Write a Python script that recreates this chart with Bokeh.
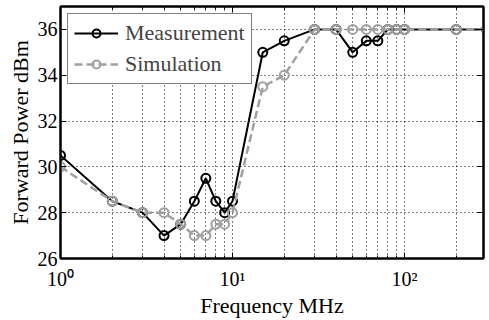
from bokeh.plotting import figure
from bokeh.models import LogAxis, LinearAxis, FixedTicker, Legend, LegendItem, Range1d
from bokeh.embed import file_html
from bokeh.resources import INLINE

freq = [1, 2, 3, 4, 5, 6, 7, 8, 9, 10, 15, 20, 30, 40, 50, 60, 70, 80, 90, 100, 200, 300]
meas = [30.5, 28.5, 28, 27, 27.5, 28.5, 29.5, 28.5, 28, 28.5, 35, 35.5, 36, 36, 35, 35.5, 35.5, 36, 36, 36, 36, 36]
sim = [30, 28.5, 28, 28, 27.5, 27, 27, 27.5, 27.5, 28, 33.5, 34, 36, 36, 36, 36, 36, 36, 36, 36, 36, 36]

x_major = [1, 10, 100]
x_minor = [2, 3, 4, 5, 6, 7, 8, 9, 20, 30, 40, 50, 60, 70, 80, 90, 200]
x_labels = {1: "10\u2070", 10: "10\u00b9", 100: "10\u00b2"}
y_major = [26, 28, 30, 32, 34, 36]

FONT = "Liberation Serif"
GRAY = "#a0a0a0"

p = figure(width=489, height=320, x_axis_type="log",
           x_range=Range1d(1, 288), y_range=Range1d(26, 37),
           output_backend="svg", toolbar_location=None,
           min_border_left=60, min_border_right=6, min_border_top=6, min_border_bottom=61,
           x_axis_label="Frequency MHz", y_axis_label="Forward Power dBm")

xt = FixedTicker(ticks=x_major, minor_ticks=x_minor)
yt = FixedTicker(ticks=y_major)

p.xaxis.ticker = xt
p.yaxis.ticker = yt
p.xaxis.major_label_overrides = x_labels

p.axis.major_tick_in = 6
p.axis.major_tick_out = 0
p.axis.minor_tick_in = 3
p.axis.minor_tick_out = 0
p.axis.axis_line_width = 2
p.axis.major_label_text_font = FONT
p.axis.major_label_text_font_size = "20px"
p.axis.major_label_text_color = "black"
p.axis.axis_label_text_font = FONT
p.axis.axis_label_text_font_size = "22px"
p.axis.axis_label_text_font_style = "normal"
p.axis.axis_label_text_color = "black"
p.yaxis.minor_tick_line_color = None
p.xaxis.major_label_standoff = 9
p.yaxis.major_label_standoff = 3
p.xaxis.axis_label_standoff = 0
p.yaxis.axis_label_standoff = 2

top = LogAxis(ticker=xt, major_tick_in=6, major_tick_out=0, minor_tick_in=3, minor_tick_out=0,
              axis_line_width=2, major_label_text_font_size="1px", major_label_text_color=None,
              major_label_standoff=0)
right = LinearAxis(ticker=yt, major_tick_in=6, major_tick_out=0, minor_tick_line_color=None,
                   axis_line_width=2, major_label_text_font_size="1px", major_label_text_color=None,
                   major_label_standoff=0)
p.add_layout(top, "above")
p.add_layout(right, "right")

p.xgrid.ticker = xt
p.ygrid.ticker = yt
for g in [p.xgrid[0], p.ygrid[0]]:
    g.grid_line_color = "black"
    g.grid_line_dash = "1 3"
    g.grid_line_width = 1
p.xgrid.minor_grid_line_color = "black"
p.xgrid.minor_grid_line_dash = "1 3"
p.outline_line_color = "black"
p.outline_line_width = 2

ml = p.line(freq, meas, line_color="black", line_width=2)
ms = p.scatter(freq, meas, size=9, line_color="black", line_width=2, fill_color=None)
sl = p.line(freq, sim, line_color=GRAY, line_width=2.5, line_dash="8 4")
ss = p.scatter(freq, sim, size=9, line_color=GRAY, line_width=2, fill_color=None)

legend = Legend(items=[LegendItem(label="Measurement", renderers=[ml, ms]),
                       LegendItem(label="Simulation", renderers=[sl, ss])],
                location="top_left", margin=7, padding=6, spacing=5,
                glyph_width=44, glyph_height=20, label_height=20, label_standoff=7,
                label_text_font=FONT, label_text_font_size="22px",
                border_line_color="black", border_line_width=1.5,
                background_fill_alpha=1)
p.add_layout(legend, "center")

open("out.html", "w").write(file_html(p, INLINE))
